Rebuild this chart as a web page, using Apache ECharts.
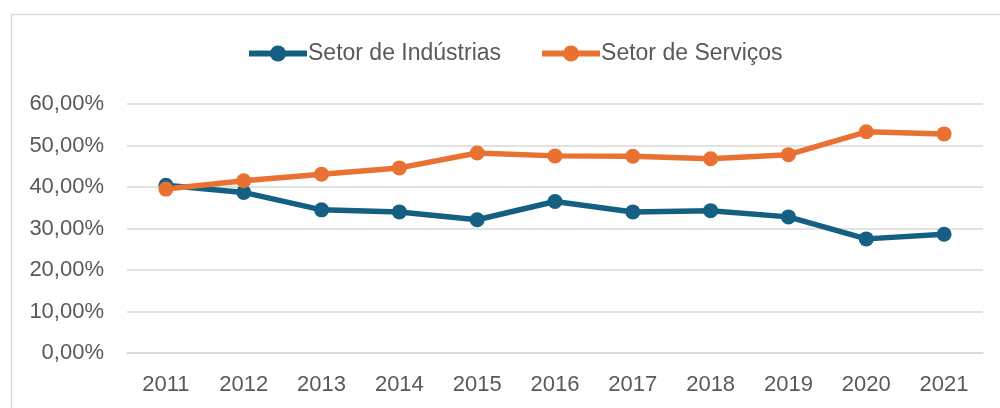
<!DOCTYPE html>
<html>
<head>
<meta charset="utf-8">
<script src="https://cdn.jsdelivr.net/npm/echarts@6/dist/echarts.min.js"></script>
<style>
  html, body { margin: 0; padding: 0; background: #fff; }
  #main { width: 1000px; height: 408px; }
</style>
</head>
<body>
<div id="main"></div>
<script>
const years = ["2011", "2012", "2013", "2014", "2015", "2016", "2017", "2018", "2019", "2020", "2021"];
const industrias = [40.4, 38.7, 34.5, 34.0, 32.1, 36.5, 34.0, 34.3, 32.8, 27.5, 28.6];
const servicos = [39.5, 41.5, 43.1, 44.6, 48.2, 47.5, 47.4, 46.8, 47.8, 53.3, 52.8];

const FONT = "'Liberation Sans', Arial, sans-serif";
const TEXT = '#595959';

function pct(v) {
  return v.toFixed(2).replace('.', ',') + '%';
}

function lineSeries(name, data, color) {
  return {
    name: name,
    type: 'line',
    data: data,
    symbol: 'circle',
    symbolSize: 15,
    lineStyle: { width: 5.5, color: color },
    itemStyle: { color: color },
    emphasis: { disabled: true },
    animation: false
  };
}

const chart = echarts.init(document.getElementById('main'));

chart.setOption({
  backgroundColor: '#fff',
  graphic: [{
    type: 'rect',
    left: 9, top: 12,
    shape: { width: 1010, height: 420 },
    style: { fill: 'none', stroke: '#d9d9d9', lineWidth: 1.5 },
    silent: true
  }],
  legend: {
    left: 241,
    top: 37,
    itemWidth: 58,
    itemHeight: 20,
    itemGap: 38,
    lineStyle: { width: 6 },
    textStyle: { fontFamily: FONT, fontSize: 23, color: TEXT, padding: [0, 0, 0, -4] },
    data: ['Setor de Indústrias', 'Setor de Serviços']
  },
  grid: { left: 127, right: 17, top: 104, bottom: 55 },
  xAxis: {
    type: 'category',
    data: years,
    axisLine: { lineStyle: { color: '#d9d9d9', width: 1.5 } },
    axisTick: { show: false },
    axisLabel: { fontFamily: FONT, fontSize: 22, color: TEXT, margin: 21 }
  },
  yAxis: {
    type: 'value',
    min: 0,
    max: 60,
    interval: 10,
    axisLine: { show: false },
    axisTick: { show: false },
    splitLine: { lineStyle: { color: '#d9d9d9', width: 1.5 } },
    axisLabel: { fontFamily: FONT, fontSize: 22, color: TEXT, margin: 23, formatter: pct }
  },
  series: [
    lineSeries('Setor de Indústrias', industrias, '#156082'),
    lineSeries('Setor de Serviços', servicos, '#E97132')
  ]
});
</script>
</body>
</html>
